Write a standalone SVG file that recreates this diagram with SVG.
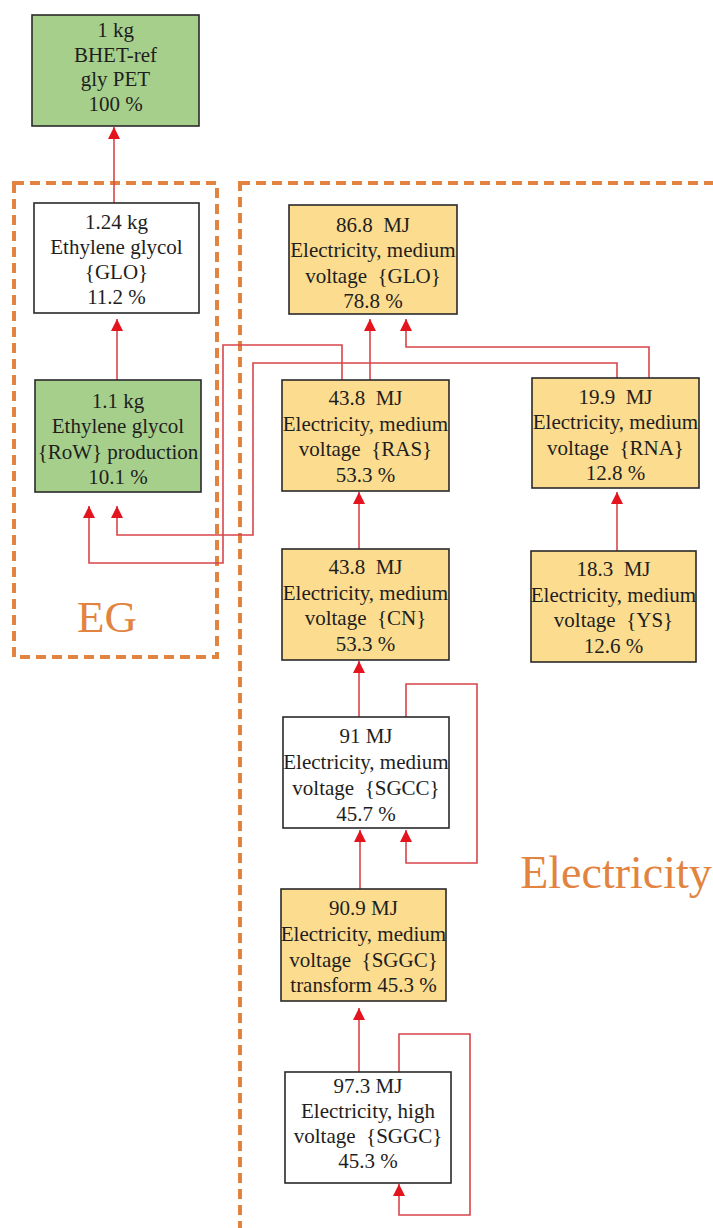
<svg xmlns="http://www.w3.org/2000/svg" width="713" height="1228" viewBox="0 0 713 1228">
<style>
.box{stroke:#2a2a2a;stroke-width:1.6}
.green{fill:#A6CF8C}
.yellow{fill:#FCDC8E}
.white{fill:#ffffff}
.t{font-family:"Liberation Serif","Times New Roman",serif;font-size:21px;fill:#1e1e1e;text-anchor:middle}
.grp{fill:none;stroke:#E2843F;stroke-width:4;stroke-dasharray:10 6}
.lbl{font-family:"Liberation Serif","Times New Roman",serif;fill:#E2843F;text-anchor:middle}
.c{fill:none;stroke:#D8464B;stroke-width:1.6;marker-end:url(#ah)}
</style>
<defs>
<marker id="ah" markerUnits="userSpaceOnUse" markerWidth="12" markerHeight="12" viewBox="0 0 10 10" refX="10" refY="5" orient="auto">
<path d="M0,0 L10,5 L0,10 Z" fill="#E4141E"/>
</marker>
</defs>
<rect width="713" height="1228" fill="#ffffff"/>
<g id="groups">
<rect class="grp" x="14" y="183" width="203" height="474"/>
<rect class="grp" x="240" y="183" width="520" height="1100"/>
<text class="lbl" x="107" y="632" font-size="45">EG</text>
<text class="lbl" x="616" y="888" font-size="46">Electricity</text>
</g>
<g id="connectors">
<polyline class="c" points="114,203 114,127"/>
<polyline class="c" points="117,380 117,319"/>
<polyline class="c" points="342,380 342,345 223,345 223,563 89,563 89,506"/>
<polyline class="c" points="617,378 617,363 253,363 253,535 117,535 117,506"/>
<polyline class="c" points="370,380 370,319"/>
<polyline class="c" points="649,378 649,347 406,347 406,319"/>
<polyline class="c" points="617,551 617,492"/>
<polyline class="c" points="359,549 359,492"/>
<polyline class="c" points="359,717 359,661"/>
<polyline class="c" points="406,717 406,684 477,684 477,863 406,863 406,830"/>
<polyline class="c" points="360,889 360,830"/>
<polyline class="c" points="359,1072 359,1008"/>
<polyline class="c" points="399,1072 399,1034 470,1034 470,1215 399,1215 399,1184"/>
</g>
<g id="n_bhet">
<rect class="box green" x="32" y="15" width="167" height="111"/>
<text class="t" x="115.5" y="37">1 kg</text>
<text class="t" x="115.5" y="62">BHET-ref</text>
<text class="t" x="115.5" y="86">gly PET</text>
<text class="t" x="115.5" y="111">100 %</text>
</g>
<g id="n_eg_glo">
<rect class="box white" x="34" y="203" width="165" height="110"/>
<text class="t" x="116.5" y="229">1.24 kg</text>
<text class="t" x="116.5" y="254">Ethylene glycol</text>
<text class="t" x="116.5" y="279">{GLO}</text>
<text class="t" x="116.5" y="304">11.2 %</text>
</g>
<g id="n_eg_row">
<rect class="box green" x="35" y="380" width="166" height="112"/>
<text class="t" x="118" y="408">1.1 kg</text>
<text class="t" x="118" y="433">Ethylene glycol</text>
<text class="t" x="118" y="459">{RoW} production</text>
<text class="t" x="118" y="484">10.1 %</text>
</g>
<g id="n_glo">
<rect class="box yellow" x="289" y="205" width="168" height="109"/>
<text class="t" x="373" y="232" xml:space="preserve">86.8  MJ</text>
<text class="t" x="373" y="257">Electricity, medium</text>
<text class="t" x="373" y="283" xml:space="preserve">voltage  {GLO}</text>
<text class="t" x="373" y="308">78.8 %</text>
</g>
<g id="n_ras">
<rect class="box yellow" x="282" y="380" width="167" height="111"/>
<text class="t" x="365.5" y="405" xml:space="preserve">43.8  MJ</text>
<text class="t" x="365.5" y="431">Electricity, medium</text>
<text class="t" x="365.5" y="456" xml:space="preserve">voltage  {RAS}</text>
<text class="t" x="365.5" y="482">53.3 %</text>
</g>
<g id="n_rna">
<rect class="box yellow" x="532" y="378" width="167" height="110"/>
<text class="t" x="615.5" y="404" xml:space="preserve">19.9  MJ</text>
<text class="t" x="615.5" y="429">Electricity, medium</text>
<text class="t" x="615.5" y="455" xml:space="preserve">voltage  {RNA}</text>
<text class="t" x="615.5" y="480">12.8 %</text>
</g>
<g id="n_cn">
<rect class="box yellow" x="282" y="549" width="167" height="111"/>
<text class="t" x="365.5" y="574" xml:space="preserve">43.8  MJ</text>
<text class="t" x="365.5" y="600">Electricity, medium</text>
<text class="t" x="365.5" y="625" xml:space="preserve">voltage  {CN}</text>
<text class="t" x="365.5" y="651">53.3 %</text>
</g>
<g id="n_ys">
<rect class="box yellow" x="531" y="551" width="165" height="111"/>
<text class="t" x="613.5" y="576" xml:space="preserve">18.3  MJ</text>
<text class="t" x="613.5" y="602">Electricity, medium</text>
<text class="t" x="613.5" y="627" xml:space="preserve">voltage  {YS}</text>
<text class="t" x="613.5" y="653">12.6 %</text>
</g>
<g id="n_sgcc">
<rect class="box white" x="283" y="717" width="166" height="111"/>
<text class="t" x="366" y="743">91 MJ</text>
<text class="t" x="366" y="769">Electricity, medium</text>
<text class="t" x="366" y="795" xml:space="preserve">voltage  {SGCC}</text>
<text class="t" x="366" y="821">45.7 %</text>
</g>
<g id="n_sggc_mv">
<rect class="box yellow" x="281" y="889" width="165" height="112"/>
<text class="t" x="363.5" y="915">90.9 MJ</text>
<text class="t" x="363.5" y="941">Electricity, medium</text>
<text class="t" x="363.5" y="967" xml:space="preserve">voltage  {SGGC}</text>
<text class="t" x="363.5" y="992">transform 45.3  %</text>
</g>
<g id="n_sggc_hv">
<rect class="box white" x="285" y="1072" width="166" height="111"/>
<text class="t" x="368" y="1093">97.3 MJ</text>
<text class="t" x="368" y="1118">Electricity, high</text>
<text class="t" x="368" y="1143" xml:space="preserve">voltage  {SGGC}</text>
<text class="t" x="368" y="1168">45.3 %</text>
</g>
</svg>
